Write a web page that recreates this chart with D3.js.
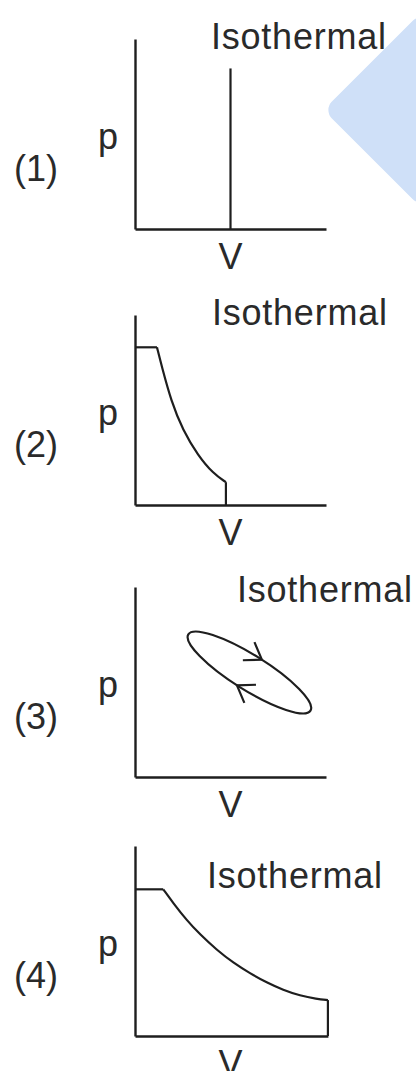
<!DOCTYPE html>
<html>
<head>
<meta charset="utf-8">
<script src="https://cdn.jsdelivr.net/npm/d3@7"></script>
<style>
  body { margin: 0; background: #fff; }
  text { font-family: "Liberation Sans", Arial, sans-serif; fill: #2a2a2a; }
</style>
</head>
<body>
<div class="canvas"></div>
<script>
// chart data (V, p in arbitrary units 0..10)
const panelLabels = ['(1)', '(2)', '(3)', '(4)'];
const axisNames = ['V', 'p'];
const curveName = 'Isothermal';

// (1) vertical line at constant V
const iso1 = [[5.0, 0], [5.0, 8.45]];

// (2) flat top -> curve -> drop to axis
const top2 = [[0, 8.3], [1.15, 8.3]];
const curve2 = [[1.15, 8.3], [1.4, 7.3], [1.9, 5.45], [2.5, 3.95], [3.3, 2.6], [4.1, 1.65], [4.76, 1.2]];
const drop2 = [[4.76, 1.2], [4.76, 0]];

// (3) closed cycle, clockwise
const loopCenter = [5.99, 5.5];
const loopRadii = [3.77, 0.92];
const loopTilt = 32;
const loopArrowAt = [-87, 93]; // ellipse angle of each arrow tip

// (4) flat top -> curve -> drop to axis
const top4 = [[0, 7.72], [1.48, 7.72]];
const curve4 = [[1.48, 7.72], [2.0, 7.0], [2.7, 6.1], [3.4, 5.35], [4.28, 4.53], [5.15, 3.85], [6.02, 3.3],
                [6.9, 2.81], [7.76, 2.42], [8.64, 2.12], [9.51, 1.95], [10.1, 1.89]];
const drop4 = [[10.1, 1.89], [10.1, 0]];

// where "Isothermal" sits in each panel (V, p)
const namePos = [[3.98, 9.47], [4.03, 9.47], [5.34, 9.2], [3.77, 7.8]];
const xEnd = [10, 10, 10, 10.1];

//layout
const dims = { width: 416, height: 1071 };
const panelBase = [229, 505, 777, 1036]; // pixel y of each V axis
const axisLeft = 135;
const plot = { w: 191, h: 190 };
const ink = '#1e1e1e';

const svg = d3.select('.canvas')
              .append('svg')
              .attr('width', dims.width)
              .attr('height', dims.height);

// light blue diamond in the corner of the page
svg.append('rect')
   .attr('x', 421 - 69).attr('y', 110 - 69)
   .attr('width', 138).attr('height', 138)
   .attr('rx', 12)
   .attr('fill', '#cfe0f8')
   .attr('transform', 'rotate(45, 421, 110)');

const x = d3.scaleLinear().domain([0, 10]).range([0, plot.w]);
const y = d3.scaleLinear().domain([0, 10]).range([plot.h, 0]);

const line = d3.line().x(d => x(d[0])).y(d => y(d[1]));
const smooth = d3.line().x(d => x(d[0])).y(d => y(d[1])).curve(d3.curveBasis);

const panels = [
  { lines: [iso1], curves: [] },
  { lines: [top2, drop2], curves: [curve2] },
  { lines: [], curves: [], loop: true },
  { lines: [top4, drop4], curves: [curve4] }
];

panels.forEach((p, i) => {
  const g = svg.append('g')
               .attr('transform', `translate(${axisLeft}, ${panelBase[i] - plot.h})`);

  // axes without ticks, just the domain lines
  const xa = x.copy().domain([0, xEnd[i]]).range([0, x(xEnd[i])]);
  g.append('g')
   .attr('transform', `translate(0, ${plot.h})`)
   .call(d3.axisBottom(xa).tickValues([]).tickSizeOuter(0));
  g.append('g')
   .call(d3.axisLeft(y).tickValues([]).tickSizeOuter(0));
  g.selectAll('.domain').attr('stroke', ink).attr('stroke-width', 2.4);

  p.lines.forEach(pts => {
    g.append('path').attr('d', line(pts))
     .attr('fill', 'none').attr('stroke', ink).attr('stroke-width', 2.2);
  });
  p.curves.forEach(pts => {
    g.append('path').attr('d', smooth(pts))
     .attr('fill', 'none').attr('stroke', ink).attr('stroke-width', 2.2);
  });

  if (p.loop) {
    const cx = x(loopCenter[0]), cy = y(loopCenter[1]);
    const rx = x(loopRadii[0]) - x(0), ry = y(0) - y(loopRadii[1]);
    g.append('ellipse')
     .attr('cx', cx).attr('cy', cy).attr('rx', rx).attr('ry', ry)
     .attr('transform', `rotate(${loopTilt}, ${cx}, ${cy})`)
     .attr('fill', 'none').attr('stroke', ink).attr('stroke-width', 2.2);

    // open arrowheads following the ellipse direction
    const rot = loopTilt * Math.PI / 180;
    const turn = ([u, v]) => [u * Math.cos(rot) - v * Math.sin(rot), u * Math.sin(rot) + v * Math.cos(rot)];
    loopArrowAt.forEach(deg => {
      const t = deg * Math.PI / 180;
      const [px, py] = turn([rx * Math.cos(t), ry * Math.sin(t)]);
      const [tx, ty] = turn([-rx * Math.sin(t), ry * Math.cos(t)]);
      const back = Math.atan2(-ty, -tx);
      const tip = [cx + px, cy + py];
      const barb = a => [tip[0] + 19 * Math.cos(back + a), tip[1] + 19 * Math.sin(back + a)];
      g.append('path')
       .attr('d', d3.line()([barb(0.6), tip, barb(-0.6)]))
       .attr('fill', 'none').attr('stroke', ink).attr('stroke-width', 2.2);
    });
  }

  // texts
  g.append('text')
   .attr('x', x(namePos[i][0])).attr('y', y(namePos[i][1]))
   .attr('font-size', 36)
   .attr('textLength', 175).attr('lengthAdjust', 'spacing')
   .text(curveName);

  g.append('text')
   .attr('x', x(5)).attr('y', plot.h + 40)
   .attr('text-anchor', 'middle')
   .attr('font-size', 36)
   .text(axisNames[0]);

  g.append('text')
   .attr('x', 98 - axisLeft).attr('y', plot.h - 80)
   .attr('font-size', 36)
   .text(axisNames[1]);

  g.append('text')
   .attr('x', 14 - axisLeft).attr('y', plot.h - 48)
   .attr('font-size', 36)
   .text(panelLabels[i]);
});
</script>
</body>
</html>
